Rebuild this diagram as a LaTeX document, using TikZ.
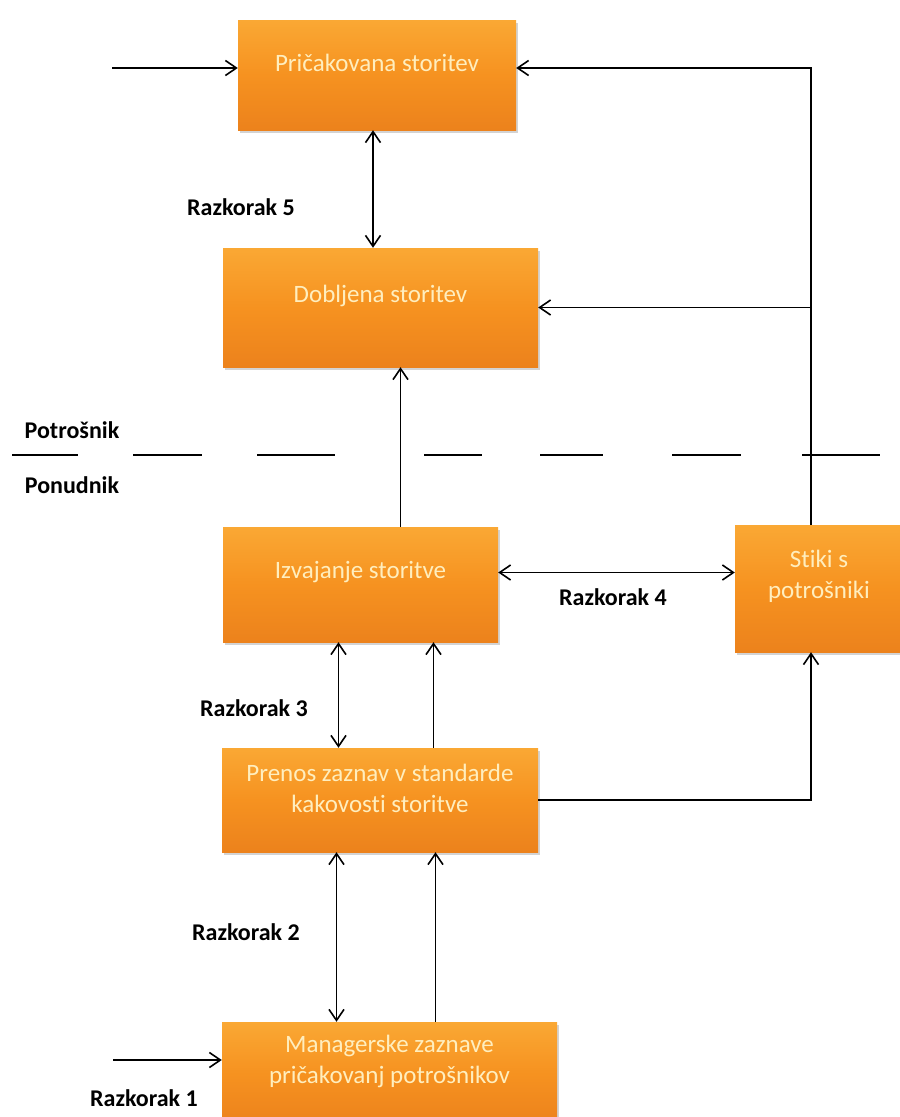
\documentclass[tikz,border=0pt]{standalone}
\usepackage{fontspec}
\setmainfont[Ligatures=NoCommon]{Carlito}
\usetikzlibrary{arrows.meta}
\usetikzlibrary{shadows}
\definecolor{boxtop}{RGB}{250,168,52}
\definecolor{boxmid}{RGB}{246,146,32}
\definecolor{boxbot}{RGB}{236,130,28}
\definecolor{boxink}{RGB}{255,238,190}
\tikzset{%
    box/.style={rectangle,inner sep=0pt,top color=boxtop,bottom color=boxbot,middle color=boxmid,
        drop shadow={shadow xshift=2pt,shadow yshift=-3pt,opacity=0.35}},
    boxlbl/.style={text=boxink,align=center,yshift=12pt,font=\fontsize{25}{31}\selectfont}
}

\begin{document}
\begin{tikzpicture}[x=1pt,y=-1pt,
        edge/.style={line width=1.6pt},
        >={Straight Barb[length=11pt,width=15pt]},
        gap/.style={font=\fontsize{24}{28}\selectfont\bfseries}
        ]
        \useasboundingbox (0,0) rectangle (900,1117);

        \node[box,minimum width=278pt,minimum height=110pt,
            label={[boxlbl]center:Pričakovana storitev}] (prica) at (377,75) {};
        \node[box,minimum width=315pt,minimum height=119pt,
            label={[boxlbl]center:Dobljena storitev}] (dob) at (380.5,307.5) {};
        \node[box,minimum width=275pt,minimum height=115pt,
            label={[boxlbl]center:Izvajanje storitve}] (izv) at (360.5,584.5) {};
        \node[box,minimum width=168pt,minimum height=127pt,
            label={[boxlbl]center:{Stiki s\\potrošniki}}] (stiki) at (819,588.5) {};
        \node[box,minimum width=316pt,minimum height=104pt,
            label={[boxlbl]center:{Prenos zaznav v standarde\\kakovosti storitve}}] (prenos) at (380,800) {};
        \node[box,minimum width=335pt,minimum height=103pt,
            label={[boxlbl]center:{Managerske zaznave\\pričakovanj potrošnikov}}] (man) at (389.5,1073.5) {};

        \node[gap] (r5) at (241,207) {Razkorak 5};
        \node[gap] (r4) at (613,597) {Razkorak 4};
        \node[gap] (r3) at (254,708) {Razkorak 3};
        \node[gap] (r2) at (246,932) {Razkorak 2};
        \node[gap] (r1) at (144,1098) {Razkorak 1};
        \node[gap] (potr) at (72,430) {Potrošnik};
        \node[gap] (pon) at (72,485) {Ponudnik};

        % meja med potrosnikom in ponudnikom
        \foreach \a/\b in {12/78,133/202,257/335,424/482,540/603,672/741,802/880}
            \draw[edge] (\a,455) -- (\b,455);

        \coordinate (in1) at (112,68);
        \coordinate (in5) at (113,1060);

        \draw[edge,->] (in1) -- (in1 -| prica.west);
        \draw[edge,->] ([xshift=-8]stiki.north) |- (prica.east |- in1);
        \draw[edge,->] ([xshift=-8]stiki.north |- dob.east) -- (dob.east);
        \draw[edge,<->] ([xshift=-4]prica.south) -- ([xshift=-4]prica.south |- dob.north);
        \draw[edge,->] ([xshift=40]izv.north) -- ([xshift=40]izv.north |- dob.south);
        \draw[edge,<->] ([yshift=12]izv.east) -- ([yshift=12]izv.east -| stiki.west);
        \draw[edge,<->] ([xshift=-22]izv.south) -- ([xshift=-22]izv.south |- prenos.north);
        \draw[edge,->] ([xshift=73]izv.south |- prenos.north) -- ([xshift=73]izv.south);
        \draw[edge,->] (prenos.east) -| ([xshift=-8]stiki.south);
        \draw[edge,<->] ([xshift=-53]man.north) -- ([xshift=-53]man.north |- prenos.south);
        \draw[edge,->] ([xshift=46]man.north) -- ([xshift=46]man.north |- prenos.south);
        \draw[edge,->] (in5) -- (in5 -| man.west);
\end{tikzpicture}
\end{document}
